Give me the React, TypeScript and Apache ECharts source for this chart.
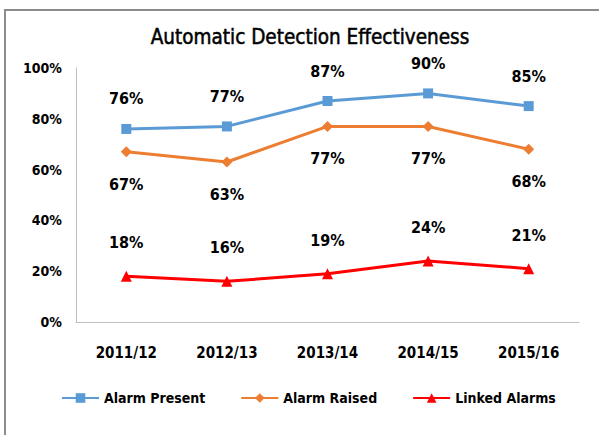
import React, { useEffect, useRef } from "react";
import * as echarts from "echarts";

const categories = ["2011/12", "2012/13", "2013/14", "2014/15", "2015/16"];
const alarmPresent = [76, 77, 87, 90, 85];
const alarmRaised = [67, 63, 77, 77, 68];
const linkedAlarms = [18, 16, 19, 24, 21];
const yTicks = [0, 20, 40, 60, 80, 100];

const FONT = "'DejaVu Sans Condensed', 'Liberation Sans', sans-serif";

export default function App() {
  const ref = useRef<HTMLDivElement>(null);
  useEffect(() => {
    document.body.style.margin = "0";
    const chart = echarts.init(ref.current!, null, { renderer: "svg" });
    const label = (pos: string, dist: number) => ({
      show: true,
      position: pos,
      distance: dist,
      formatter: "{c}%",
      fontFamily: FONT,
      fontWeight: "bold",
      fontSize: 16,
      color: "#000",
    });
    chart.setOption({
      animation: false,
      backgroundColor: "#fff",
      graphic: [
        {
          type: "rect",
          shape: { x: 5, y: 10, width: 640, height: 480 },
          style: { fill: "none", stroke: "#8c8c8c", lineWidth: 2 },
          silent: true,
        },
      ],
      title: {
        text: "Automatic Detection Effectiveness",
        left: 305,
        top: 21,
        textAlign: "center",
        textStyle: {
          fontFamily: FONT,
          fontWeight: "normal",
          fontSize: 20.5,
          color: "#000",
          textBorderColor: "#000",
          textBorderWidth: 0.5,
        },
      },
      grid: { left: 76, right: 20, top: 68, bottom: 113 },
      xAxis: {
        type: "category",
        data: categories,
        axisLine: { lineStyle: { color: "#bfbfbf", width: 1 } },
        axisTick: { show: false },
        axisLabel: {
          margin: 23,
          fontFamily: FONT,
          fontWeight: "bold",
          fontSize: 15,
          color: "#000",
        },
      },
      yAxis: {
        type: "value",
        min: yTicks[0],
        max: yTicks[yTicks.length - 1],
        interval: 20,
        splitLine: { show: false },
        axisLine: { show: true, lineStyle: { color: "#bfbfbf", width: 1 } },
        axisTick: { show: false },
        axisLabel: {
          margin: 14,
          formatter: "{value}%",
          fontFamily: FONT,
          fontWeight: "bold",
          fontSize: 14,
          color: "#000",
        },
      },
      legend: {
        bottom: 25,
        left: 56,
        itemGap: 35,
        itemWidth: 37,
        itemHeight: 12,
        textStyle: { fontFamily: FONT, fontWeight: "bold", fontSize: 14, color: "#000" },
        data: ["Alarm Present", "Alarm Raised", "Linked Alarms"],
      },
      series: [
        {
          name: "Alarm Present",
          type: "line",
          data: alarmPresent,
          color: "#5B9BD5",
          symbol: "rect",
          symbolSize: 10,
          lineStyle: { width: 3 },
          label: label("top", 17),
        },
        {
          name: "Alarm Raised",
          type: "line",
          data: alarmRaised,
          color: "#ED7D31",
          symbol: "diamond",
          symbolSize: 11,
          lineStyle: { width: 3 },
          label: label("bottom", 19),
        },
        {
          name: "Linked Alarms",
          type: "line",
          data: linkedAlarms,
          color: "#FF0000",
          symbol: "triangle",
          symbolSize: 11,
          lineStyle: { width: 3 },
          label: label("top", 20),
        },
      ],
    });
    return () => chart.dispose();
  }, []);
  return <div ref={ref} style={{ width: 599, height: 435 }} />;
}
